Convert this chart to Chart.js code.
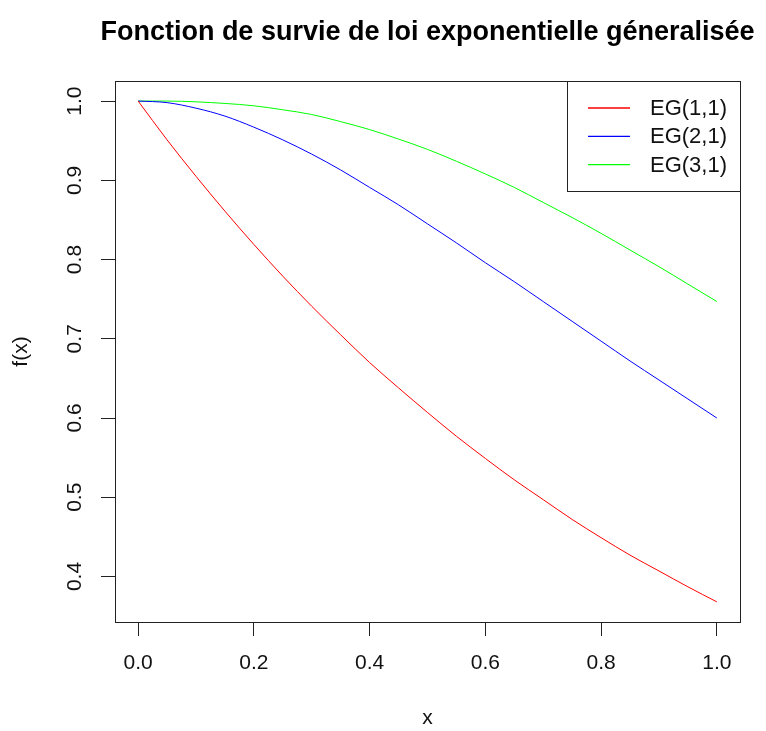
<!DOCTYPE html>
<html>
<head>
<meta charset="utf-8">
<script src="https://cdn.jsdelivr.net/npm/chart.js@4"></script>
<style>
  html, body { margin: 0; padding: 0; background: #fff; }
  #wrap { width: 766px; height: 731px; }
</style>
</head>
<body>
<div id="wrap"><canvas id="chart" width="766" height="731"></canvas></div>
<script>
// values, x step 0.05
const xs = [0, 0.05, 0.1, 0.15, 0.2, 0.25, 0.3, 0.35, 0.4, 0.45, 0.5,
            0.55, 0.6, 0.65, 0.7, 0.75, 0.8, 0.85, 0.9, 0.95, 1.0];
const eg11 = [1, 0.951, 0.905, 0.861, 0.819, 0.779, 0.741, 0.705, 0.670, 0.638, 0.607,
              0.577, 0.549, 0.522, 0.497, 0.472, 0.449, 0.427, 0.407, 0.387, 0.368];
const eg21 = [1, 0.998, 0.991, 0.981, 0.967, 0.951, 0.933, 0.913, 0.891, 0.869, 0.845,
              0.821, 0.796, 0.772, 0.747, 0.722, 0.697, 0.672, 0.648, 0.624, 0.600];
const eg31 = [1, 1.000, 0.999, 0.997, 0.994, 0.989, 0.983, 0.974, 0.964, 0.952, 0.939,
              0.924, 0.908, 0.891, 0.872, 0.853, 0.833, 0.812, 0.791, 0.769, 0.747];
const seriesNames = ["EG(1,1)", "EG(2,1)", "EG(3,1)"];
const seriesColors = ["#ff0000", "#0000ff", "#00ff00"];
const xTicks = [0, 0.2, 0.4, 0.6, 0.8, 1.0];
const yTicks = [0.4, 0.5, 0.6, 0.7, 0.8, 0.9, 1.0];
const titleText = "Fonction de survie de loi exponentielle géneralisée";

const FONT = "Liberation Sans, Arial, sans-serif";
const pts = ys => xs.map((x, i) => ({ x: x, y: ys[i] }));

// box, rotated y labels, legend and title drawn like base R
const rStyle = {
  id: "rStyle",
  afterDraw(chart) {
    const c = chart.ctx, a = chart.chartArea;
    const ys = chart.scales.y;
    c.save();
    c.strokeStyle = "#222";
    c.lineWidth = 1;
    c.strokeRect(Math.round(a.left) + 0.5, Math.round(a.top) + 0.5,
                 Math.round(a.right - a.left), Math.round(a.bottom - a.top));

    c.fillStyle = "#111";
    c.font = "21px " + FONT;
    c.textAlign = "center";
    c.textBaseline = "middle";
    yTicks.forEach(v => {
      c.save();
      c.translate(75, ys.getPixelForValue(v));
      c.rotate(-Math.PI / 2);
      c.fillText(v.toFixed(1), 0, 0);
      c.restore();
    });

    // title
    c.font = "bold 27px " + FONT;
    c.fillStyle = "#000";
    c.fillText(titleText, (a.left + a.right) / 2, 33);

    // legend
    const lx = 567, ly = Math.round(a.top) + 0.5, lw = Math.round(a.right) - lx, lh = 110;
    c.strokeStyle = "#222";
    c.strokeRect(lx + 0.5, ly, lw, lh);
    c.font = "22px " + FONT;
    c.textAlign = "left";
    seriesNames.forEach((name, i) => {
      const yy = 108 + i * 28.3;
      c.strokeStyle = seriesColors[i];
      c.lineWidth = 1.3;
      c.beginPath();
      c.moveTo(588, yy);
      c.lineTo(630, yy);
      c.stroke();
      c.fillStyle = "#111";
      c.fillText(name, 650, yy + 1);
    });
    c.restore();
  }
};

new Chart(document.getElementById("chart"), {
  type: "line",
  data: {
    datasets: [eg11, eg21, eg31].map((ys, i) => ({
      label: seriesNames[i],
      data: pts(ys),
      borderColor: seriesColors[i],
      borderWidth: 1,
      pointRadius: 0,
      cubicInterpolationMode: "monotone",
      fill: false
    }))
  },
  options: {
    responsive: false,
    animation: false,
    layout: { padding: { top: 81, right: 26, left: 0, bottom: 0 } },
    plugins: { legend: { display: false }, title: { display: false }, tooltip: { enabled: false } },
    scales: {
      x: {
        type: "linear",
        min: -0.04, max: 1.04,
        afterBuildTicks: s => { s.ticks = xTicks.map(v => ({ value: v })); },
        afterFit: s => { s.height = 109; },
        grid: { drawOnChartArea: false, tickLength: 14, color: "#222" },
        border: { display: false },
        ticks: { color: "#111", font: { family: FONT, size: 21 }, padding: 15,
                 maxRotation: 0, callback: v => v.toFixed(1) },
        title: { display: true, text: "x", color: "#111",
                 font: { family: FONT, size: 21 }, padding: { top: 0, bottom: 0 } }
      },
      y: {
        min: 0.3426, max: 1.0253,
        afterBuildTicks: s => { s.ticks = yTicks.map(v => ({ value: v })); },
        afterFit: s => { s.width = 115; },
        grid: { drawOnChartArea: false, tickLength: 14, color: "#222" },
        border: { display: false },
        ticks: { display: false },
        title: { display: true, text: "f(x)", color: "#111",
                 font: { family: FONT, size: 21 }, padding: { top: 9, bottom: 0 } }
      }
    }
  },
  plugins: [rStyle]
});
</script>
</body>
</html>
